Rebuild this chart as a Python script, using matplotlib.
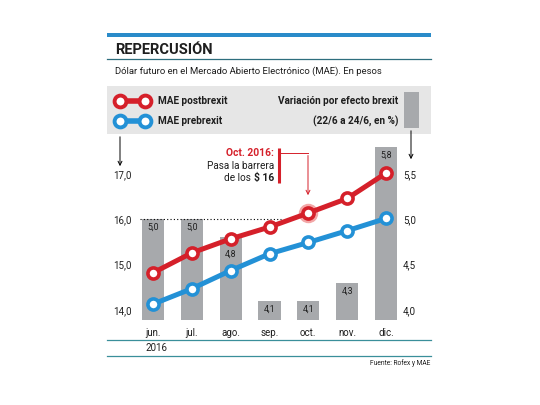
import matplotlib
matplotlib.use('Agg')
import matplotlib.pyplot as plt
from matplotlib.patches import Rectangle

plt.rcParams['font.family'] = ['Roboto', 'DejaVu Sans']

months = ["jun.", "jul.", "ago.", "sep.", "oct.", "nov.", "dic."]
post_brexit = [14.82, 15.26, 15.57, 15.83, 16.14, 16.46, 17.02]
pre_brexit = [14.13, 14.47, 14.87, 15.24, 15.49, 15.75, 16.02]
variation = [5.0, 5.0, 4.8, 4.1, 4.1, 4.3, 5.8]
left_ticks = [14.0, 15.0, 16.0, 17.0]
right_ticks = [4.0, 4.5, 5.0, 5.5]

RED = '#d5202a'
BLUE = '#2391d6'
GRAY = '#a7a9ac'
TXT = '#1e1e1e'
W, H = 540, 405


def fx(x):
    return x / W


def fy(y):
    return 1 - y / H


def comma(v):
    return f"{v:.1f}".replace('.', ',')


fig = plt.figure(figsize=(W / 100, H / 100), dpi=100)

# overlay in pixel coordinates for decorations
deco = fig.add_axes([0, 0, 1, 1], zorder=0)
deco.set_xlim(0, W)
deco.set_ylim(H, 0)
deco.axis('off')

deco.add_patch(Rectangle((107, 33), 324, 4, color='#2a8bc9', lw=0))
deco.text(115, 50, "REPERCUSIÓN", fontsize=10.5, fontweight='bold', color=TXT, va='center')
deco.plot([107, 431], [58.5, 58.5], color='#2e6e7e', lw=0.9)
deco.text(115, 71, "Dólar futuro en el Mercado Abierto Electrónico (MAE). En pesos",
          fontsize=6.8, color=TXT, va='center')

# legend box
deco.add_patch(Rectangle((107, 86), 324, 48, color='#e6e6e6', lw=0))
for yy, col, lab in [(101, RED, "MAE postbrexit"), (121, BLUE, "MAE prebrexit")]:
    deco.plot([120, 145], [yy, yy], color=col, lw=4, solid_capstyle='butt')
    deco.plot([120, 145], [yy, yy], 'o', ms=8.5, mfc='white', mec=col, mew=2.8)
    deco.text(158, yy, lab, fontsize=7.2, fontweight='bold', color=TXT, va='center')
deco.text(398, 101, "Variación por efecto brexit", fontsize=7.2, fontweight='bold',
          color=TXT, va='center', ha='right')
deco.text(398, 121, "(22/6 a 24/6, en %)", fontsize=7.2, fontweight='bold',
          color=TXT, va='center', ha='right')
deco.add_patch(Rectangle((404, 92), 15, 36, color=GRAY, lw=0))

# axis arrows
deco.annotate("", xy=(120, 169), xytext=(120, 134),
              arrowprops=dict(arrowstyle='->', color='black', lw=0.7, mutation_scale=7))
deco.annotate("", xy=(411, 162), xytext=(411, 128),
              arrowprops=dict(arrowstyle='->', color='black', lw=0.7, mutation_scale=7))

# bottom lines and footer
deco.plot([107, 431], [339.5, 339.5], color='#3a8f9a', lw=0.9)
deco.plot([107, 431], [355.5, 355.5], color='#3a8f9a', lw=0.9)
deco.text(145, 348, "2016", fontsize=7, color=TXT, va='center')
deco.text(430, 363, "Fuente: Rofex y MAE", fontsize=4.8, color=TXT, va='center', ha='right')

# chart
rect = [fx(140), fy(320), fx(400) - fx(140), fy(145) - fy(320)]
ax_bar = fig.add_axes(rect, zorder=1)
ax_bar.patch.set_visible(False)
ax_line = ax_bar.twinx()
ax_line.set_zorder(2)
ax_line.patch.set_visible(False)

x = list(range(len(months)))
base = 3.0
ax_bar.bar(x, [v - base for v in variation], width=0.57, bottom=base, color=GRAY, zorder=1)
ax_bar.set_ylim(3.89, 5.82)
ax_bar.set_xlim(-0.335, 6.36)

label_drop = {2: 17}
for i, v in enumerate(variation):
    ax_bar.annotate(comma(v), (i, v), xytext=(0, -label_drop.get(i, 8) * 0.72),
                    textcoords='offset points', ha='center', va='center',
                    fontsize=6.3, color=TXT)

ax_line.set_ylim(13.779, 17.64)
ax_line.hlines(16.0, -0.33, 3.3, colors='black', linestyles=(0, (1, 2)), lw=0.8, zorder=1)
ax_line.plot(x[4], post_brexit[4], 'o', ms=13, color='#f3a7a7', zorder=2)
for vals, col in [(post_brexit, RED), (pre_brexit, BLUE)]:
    ax_line.plot(x, vals, color=col, lw=3.6, zorder=3, solid_capstyle='round')
    ax_line.plot(x, vals, 'o', ms=8, mfc='white', mec=col, mew=2.6, zorder=4)

ax_bar.set_xticks(x)
ax_bar.set_xticklabels(months)
ax_bar.tick_params(axis='x', length=0, pad=5.8, labelsize=7, labelcolor=TXT)

ax_line.yaxis.tick_left()
ax_line.set_yticks(left_ticks)
ax_line.set_yticklabels([comma(v) for v in left_ticks])
ax_line.tick_params(axis='y', length=0, pad=5.8, labelsize=7, labelcolor=TXT)

ax_bar.yaxis.tick_right()
ax_bar.set_yticks(right_ticks)
ax_bar.set_yticklabels([comma(v) for v in right_ticks])
ax_bar.tick_params(axis='y', length=0, pad=2.2, labelsize=7, labelcolor=TXT)

for a in (ax_bar, ax_line):
    for s in a.spines.values():
        s.set_visible(False)

# annotation (on top)
note = fig.add_axes([0, 0, 1, 1], zorder=5)
note.set_xlim(0, W)
note.set_ylim(H, 0)
note.axis('off')
note.plot([279, 279], [148, 183], color=RED, lw=2.2, solid_capstyle='butt')
note.plot([279, 308], [153, 153], color=RED, lw=0.7)
note.annotate("", xy=(308, 198), xytext=(308, 152.7),
              arrowprops=dict(arrowstyle='->', color=RED, lw=0.7, mutation_scale=7))
note.text(274, 153, "Oct. 2016:", fontsize=7.4, fontweight='bold', color=RED,
          ha='right', va='center')
note.text(274, 166, "Pasa la barrera", fontsize=7.2, color=TXT, ha='right', va='center')
t16 = note.text(274, 178, r"\$ 16", fontsize=7.4, fontweight='bold', color=TXT,
                ha='right', va='center')
fig.canvas.draw()
bb = t16.get_window_extent()
note.text(bb.x0 - 3, 178, "de los", fontsize=7.2, color=TXT, ha='right', va='center')

fig.savefig('out.png', dpi=100)
